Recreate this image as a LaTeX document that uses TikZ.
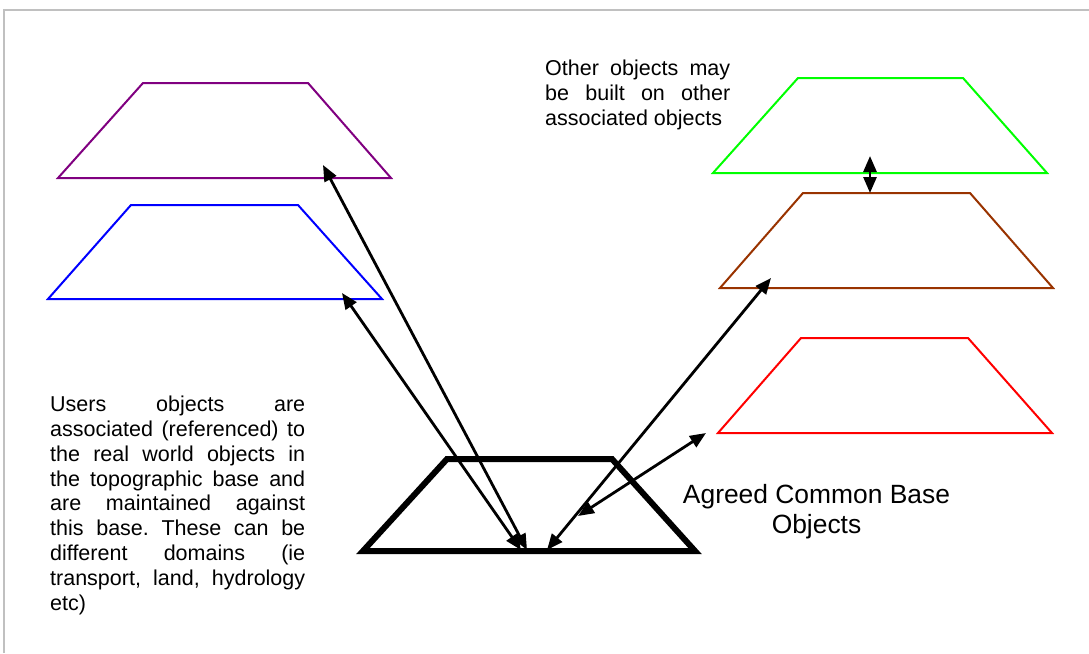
\documentclass[tikz,border=0pt]{standalone}
\usepackage{fontspec}
\setmainfont{Liberation Sans}
\usetikzlibrary{arrows.meta}
\definecolor{layerpurple}{RGB}{128,0,128}
\definecolor{layerblue}{RGB}{0,0,255}
\definecolor{layergreen}{RGB}{0,255,0}
\definecolor{layerbrown}{RGB}{153,51,0}
\definecolor{layerred}{RGB}{255,0,0}
\definecolor{framegray}{RGB}{192,192,192}
\tikzset{
    layerline/.style={line width=2pt, line join=miter},
    linkarrow/.style={{Triangle[length=16pt,width=13pt]}-{Triangle[length=16pt,width=13pt]},
        line width=2.8pt},
    notetext/.style={inner sep=0pt, align=justify, font=\fontsize{21.5}{24.8}\selectfont}
}
\frenchspacing

\begin{document}
\begin{tikzpicture}[x=1pt, y=-1pt]
        \useasboundingbox (0,0) rectangle (1089,653);
        \draw[framegray, line width=2pt] (4,653) -- (4,9.5) -- (1089,9.5);

        % object layers
        \draw[layerline, layerpurple] (58,178) -- (143,83) -- (308,83) -- (391,178) -- cycle;
        \draw[layerline, layerblue] (48,299) -- (131,205) -- (298,205) -- (382,299) -- cycle;
        \draw[layerline, layergreen] (713,173) -- (798,78) -- (963,78) -- (1047,173) -- cycle;
        \draw[layerline, layerbrown] (720,288) -- (803,193) -- (970,193) -- (1053,288) -- cycle;
        \draw[layerline, layerred] (718,433) -- (801,338) -- (968,338) -- (1052,433) -- cycle;
        \draw[layerline, line width=6pt] (363,551) -- (447,459) -- (612,459) -- (695,551) -- cycle;

        \node[notetext, text width=255pt, anchor=north west] (users) at (50,396)
            {Users objects are\linebreak
             associated (referenced) to\linebreak
             the real world objects in\linebreak
             the topographic base and\linebreak
             are maintained against\linebreak
             this base. These can be\linebreak
             different domains (ie\linebreak
             transport, land, hydrology\linebreak
             etc)};
        \node[notetext, text width=185pt, anchor=north west] (other) at (545,60)
            {Other objects may\linebreak
             be built on other\linebreak
             associated objects};
        \node[align=center, inner sep=0pt, anchor=north,
            font=\fontsize{26.4}{30}\selectfont] (common) at (816.5,484)
            {Agreed Common Base\\Objects};

        \coordinate (purple tip) at (323,165);
        \coordinate (blue tip) at (342,293);
        \coordinate (brown tip) at (771,278);
        \coordinate (red tip) at (706,433);
        \coordinate (green tip) at (870,156);
        \coordinate (brown top) at (870,193);
        \coordinate (base purple) at (527,550);
        \coordinate (base blue) at (521,550);
        \coordinate (base brown) at (547,550);
        \coordinate (base red) at (578,516);

        \draw[linkarrow] (base purple) -- (purple tip);
        \draw[linkarrow] (base blue) -- (blue tip);
        \draw[linkarrow] (base brown) -- (brown tip);
        \draw[linkarrow] (base red) -- (red tip);
        \draw[linkarrow] (brown top) -- (green tip);
    \end{tikzpicture}
\end{document}
